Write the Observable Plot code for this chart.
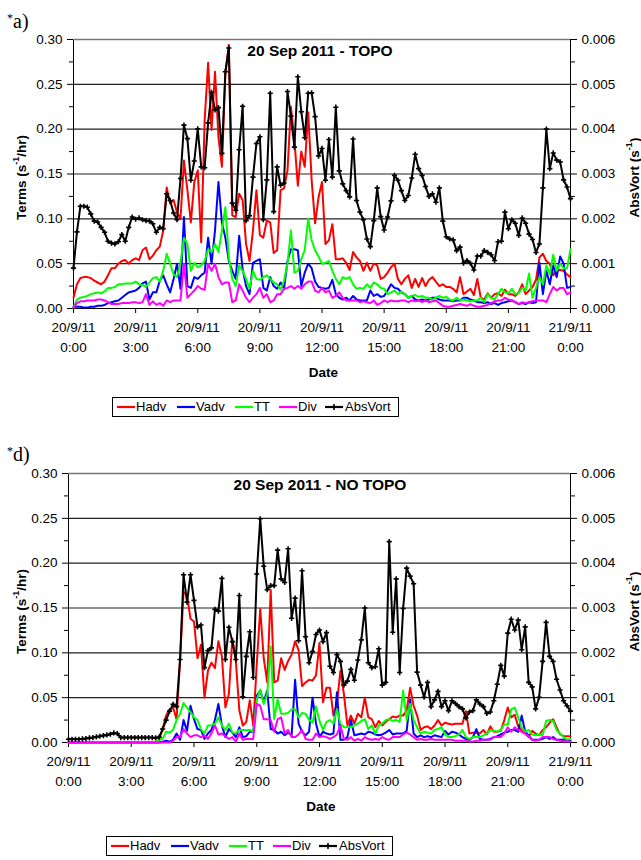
<!DOCTYPE html>
<html><head><meta charset="utf-8">
<script src="https://cdn.jsdelivr.net/npm/d3@7"></script>
<script src="https://cdn.jsdelivr.net/npm/@observablehq/plot@0.6"></script>
<style>
body{margin:0;background:#fff;}
#page{position:relative;width:641px;height:860px;background:#fff;font-family:Arial,"Liberation Sans",sans-serif;overflow:hidden}
.plabel{position:absolute;font-family:"Times New Roman","Liberation Serif",serif;font-size:20px;line-height:20px;color:#000}
.plabel sup{font-size:12px;vertical-align:6px}
.legend{position:absolute;border:1px solid #000;background:#fff;width:285px;height:18px;font-size:13px;color:#000}
.legend .it{position:absolute;top:0;height:18px;line-height:18px}
.legend svg{position:absolute;top:0}
</style></head><body><div id="page"></div><script>
// ---- time axis ----
const startTime = Date.UTC(2011, 8, 20, 0, 0);
const stepMinutes = 10;
const nPoints = 145;
const dateLabels = ["20/9/11","20/9/11","20/9/11","20/9/11","20/9/11","20/9/11","20/9/11","20/9/11","21/9/11"];
const timeLabels = ["0:00","3:00","6:00","9:00","12:00","15:00","18:00","21:00","0:00"];
const termTicks = [0, 0.05, 0.10, 0.15, 0.20, 0.25, 0.30];
const vortTicks = [0, 0.001, 0.002, 0.003, 0.004, 0.005, 0.006];
const seriesNames = ["Hadv","Vadv","TT","Div","AbsVort"];
const seriesColors = ["#ff0000","#0000ff","#00ff00","#ff00ff","#000000"];

// ---- panel a) TOPO ----
const topoHadv = [0.012,0.027,0.034,0.035,0.035,0.034,0.031,0.029,0.027,0.030,
0.037,0.045,0.045,0.050,0.053,0.054,0.050,0.054,0.056,0.054,
0.065,0.068,0.055,0.059,0.065,0.069,0.087,0.135,0.117,0.121,
0.107,0.100,0.165,0.132,0.096,0.141,0.154,0.074,0.210,0.274,
0.199,0.264,0.191,0.158,0.262,0.294,0.104,0.102,0.128,0.121,
0.072,0.053,0.087,0.132,0.082,0.079,0.098,0.096,0.062,0.065,
0.132,0.134,0.154,0.225,0.188,0.137,0.175,0.158,0.219,0.143,
0.095,0.124,0.141,0.072,0.076,0.094,0.055,0.055,0.056,0.051,
0.043,0.063,0.057,0.053,0.042,0.051,0.042,0.050,0.048,0.033,
0.035,0.040,0.046,0.050,0.033,0.027,0.033,0.037,0.023,0.033,
0.024,0.034,0.025,0.032,0.035,0.030,0.025,0.027,0.024,0.024,
0.022,0.018,0.035,0.016,0.019,0.022,0.015,0.033,0.012,0.010,
0.017,0.012,0.016,0.017,0.014,0.021,0.016,0.016,0.014,0.018,
0.027,0.016,0.020,0.024,0.032,0.057,0.061,0.053,0.050,0.037,
0.042,0.043,0.042,0.038,0.035];
const topoVadv = [0.002,0.002,0.002,0.001,0.001,0.002,0.002,0.003,0.003,0.004,
0.006,0.007,0.008,0.009,0.012,0.015,0.018,0.019,0.020,0.023,
0.028,0.030,0.010,0.018,0.018,0.031,0.037,0.027,0.018,0.033,
0.050,0.022,0.102,0.025,0.023,0.035,0.033,0.037,0.040,0.079,
0.050,0.087,0.141,0.096,0.079,0.053,0.042,0.033,0.081,0.044,
0.025,0.016,0.051,0.053,0.055,0.023,0.020,0.035,0.025,0.022,
0.029,0.022,0.053,0.066,0.066,0.065,0.025,0.040,0.050,0.045,
0.030,0.024,0.023,0.022,0.023,0.032,0.016,0.012,0.010,0.012,
0.009,0.014,0.010,0.009,0.009,0.009,0.020,0.014,0.016,0.013,
0.014,0.020,0.027,0.023,0.022,0.018,0.016,0.012,0.014,0.010,
0.009,0.010,0.009,0.010,0.012,0.012,0.010,0.009,0.009,0.009,
0.008,0.009,0.009,0.012,0.012,0.010,0.009,0.007,0.007,0.006,
0.007,0.005,0.006,0.004,0.006,0.007,0.008,0.009,0.007,0.005,
0.006,0.005,0.007,0.006,0.007,0.051,0.016,0.042,0.027,0.048,
0.035,0.058,0.050,0.023,0.024];
const topoTT = [0.001,0.010,0.012,0.013,0.014,0.016,0.017,0.018,0.017,0.019,
0.023,0.023,0.024,0.027,0.027,0.028,0.028,0.028,0.030,0.027,
0.026,0.024,0.029,0.034,0.035,0.030,0.042,0.061,0.050,0.038,
0.035,0.051,0.079,0.072,0.042,0.051,0.046,0.048,0.053,0.066,
0.063,0.072,0.063,0.087,0.113,0.057,0.033,0.025,0.048,0.042,
0.033,0.022,0.042,0.033,0.032,0.035,0.037,0.033,0.029,0.027,
0.021,0.031,0.050,0.087,0.040,0.042,0.055,0.065,0.100,0.076,
0.065,0.058,0.050,0.051,0.053,0.042,0.033,0.027,0.035,0.033,
0.035,0.027,0.022,0.023,0.022,0.027,0.023,0.029,0.027,0.023,
0.022,0.016,0.018,0.020,0.016,0.019,0.016,0.012,0.014,0.015,
0.013,0.014,0.012,0.012,0.010,0.012,0.014,0.012,0.013,0.010,
0.009,0.012,0.009,0.010,0.009,0.008,0.009,0.009,0.012,0.007,
0.016,0.012,0.010,0.016,0.022,0.018,0.017,0.022,0.016,0.017,
0.023,0.020,0.039,0.012,0.023,0.035,0.027,0.048,0.038,0.060,
0.042,0.050,0.045,0.045,0.066];
const topoDiv = [0.001,0.006,0.008,0.008,0.009,0.009,0.009,0.010,0.010,0.009,
0.007,0.005,0.005,0.005,0.006,0.006,0.006,0.007,0.007,0.006,
0.007,0.016,0.004,0.008,0.004,0.006,0.003,0.009,0.007,0.009,
0.009,0.009,0.050,0.012,0.016,0.020,0.025,0.022,0.021,0.050,
0.042,0.050,0.035,0.027,0.029,0.029,0.007,0.009,0.027,0.020,
0.012,0.007,0.012,0.016,0.023,0.012,0.016,0.007,0.009,0.016,
0.016,0.022,0.023,0.025,0.022,0.025,0.022,0.027,0.030,0.030,
0.020,0.018,0.023,0.018,0.020,0.012,0.014,0.018,0.012,0.009,
0.009,0.009,0.009,0.007,0.008,0.007,0.006,0.009,0.004,0.006,
0.009,0.007,0.009,0.008,0.008,0.009,0.009,0.007,0.009,0.008,
0.009,0.007,0.009,0.007,0.008,0.009,0.006,0.003,0.002,0.002,
0.003,0.004,0.005,0.004,0.003,0.005,0.003,0.002,0.002,0.003,
0.004,0.006,0.008,0.009,0.009,0.012,0.010,0.009,0.007,0.005,
0.007,0.006,0.007,0.008,0.009,0.009,0.009,0.007,0.016,0.024,
0.020,0.023,0.023,0.016,0.018];
const topoAbsVort = [0.00090,0.00171,0.00228,0.00228,0.00226,0.00211,0.00195,0.00193,0.00181,0.00170,
0.00150,0.00146,0.00144,0.00149,0.00165,0.00150,0.00181,0.00204,0.00199,0.00202,
0.00198,0.00196,0.00195,0.00189,0.00170,0.00181,0.00178,0.00256,0.00241,0.00213,
0.00198,0.00290,0.00409,0.00379,0.00286,0.00329,0.00401,0.00316,0.00314,0.00414,
0.00482,0.00443,0.00448,0.00346,0.00528,0.00581,0.00235,0.00219,0.00354,0.00451,
0.00196,0.00207,0.00293,0.00368,0.00383,0.00198,0.00287,0.00480,0.00216,0.00316,
0.00275,0.00280,0.00484,0.00429,0.00360,0.00517,0.00439,0.00381,0.00480,0.00481,
0.00428,0.00340,0.00357,0.00286,0.00377,0.00293,0.00449,0.00307,0.00278,0.00263,
0.00249,0.00378,0.00241,0.00215,0.00198,0.00155,0.00138,0.00196,0.00269,0.00205,
0.00175,0.00204,0.00240,0.00297,0.00286,0.00263,0.00241,0.00252,0.00291,0.00344,
0.00312,0.00297,0.00272,0.00250,0.00256,0.00237,0.00269,0.00195,0.00160,0.00155,
0.00153,0.00129,0.00137,0.00101,0.00107,0.00101,0.00086,0.00117,0.00117,0.00129,
0.00125,0.00120,0.00107,0.00149,0.00150,0.00215,0.00178,0.00198,0.00190,0.00163,
0.00202,0.00190,0.00166,0.00154,0.00125,0.00144,0.00269,0.00400,0.00312,0.00347,
0.00331,0.00327,0.00287,0.00271,0.00245];

// ---- panel d) NO TOPO ----
const notopoHadv = [0,0,0,0,0,0,0,0,0,0,
0,0,0,0,0,0,0,0,0,0,
0,0,0,0,0,0,0.003,0.015,0.030,0.037,
0.039,0.026,0.091,0.168,0.164,0.138,0.135,0.094,0.109,0.050,
0.080,0.089,0.083,0.113,0.096,0.039,0.054,0.116,0.091,0.036,
0.019,0.023,0.047,0.019,0.087,0.149,0.094,0.067,0.170,0.067,
0.069,0.094,0.081,0.091,0.098,0.113,0.103,0.063,0.067,0.070,
0.069,0.075,0.111,0.045,0.061,0.061,0.030,0.043,0.080,0.054,
0.019,0.030,0.021,0.032,0.028,0.050,0.028,0.026,0.017,0.024,
0.019,0.023,0.026,0.029,0.028,0.030,0.030,0.036,0.061,0.041,
0.030,0.014,0.017,0.018,0.015,0.019,0.025,0.019,0.022,0.021,
0.020,0.021,0.021,0.021,0.035,0.010,0.011,0.011,0.010,0.014,
0.009,0.018,0.012,0.012,0.013,0.025,0.039,0.028,0.031,0.018,
0.014,0.010,0.006,0.013,0.010,0.008,0.014,0.017,0.022,0.026,
0.017,0.009,0.007,0.007,0.007];
const notopoVadv = [0,0,0,0,0,0,0,0,0,0,
0,0,0,0,0,0,0,0,0,0,
0,0,0,0,0,0,0,0.001,0.002,0.001,
0.003,0.010,0.003,0.025,0.013,0.041,0.026,0.015,0.014,0.004,
0.010,0.014,0.025,0.043,0.019,0.006,0.015,0.011,0.006,0.017,
0.006,0.007,0.012,0.012,0.052,0.058,0.045,0.058,0.015,0.014,
0.010,0.012,0.008,0.011,0.008,0.070,0.021,0.012,0.008,0.012,
0.050,0.021,0.006,0.012,0.010,0.009,0.010,0.056,0.003,0.003,
0.006,0.025,0.008,0.009,0.010,0.009,0.012,0.011,0.009,0.008,
0.009,0.011,0.014,0.009,0.010,0.010,0.010,0.013,0.048,0.010,
0.006,0.008,0.006,0.007,0.006,0.008,0.007,0.006,0.013,0.009,
0.012,0.011,0.009,0.006,0.004,0.003,0.006,0.015,0.004,0.003,
0.003,0.004,0.006,0.007,0.009,0.011,0.012,0.014,0.014,0.012,
0.030,0.012,0.008,0.003,0.003,0.003,0.004,0.006,0.004,0.006,
0.003,0.003,0.003,0.003,0.002];
const notopoTT = [0,0,0,0,0,0,0,0,0,0,
0,0,0,0,0,0,0,0,0,0,
0,0,0,0,0,0,0.003,0.004,0.012,0.011,
0.014,0.025,0.032,0.044,0.039,0.034,0.028,0.025,0.015,0.010,
0.019,0.019,0.021,0.028,0.019,0.014,0.021,0.011,0.010,0.014,
0.014,0.014,0.014,0.012,0.048,0.059,0.043,0.054,0.107,0.026,
0.048,0.032,0.032,0.033,0.037,0.037,0.028,0.033,0.032,0.025,
0.022,0.040,0.024,0.014,0.023,0.025,0.021,0.037,0.021,0.017,
0.017,0.017,0.019,0.021,0.024,0.026,0.015,0.019,0.010,0.019,
0.021,0.025,0.026,0.024,0.025,0.023,0.058,0.025,0.043,0.025,
0.017,0.010,0.012,0.011,0.010,0.014,0.015,0.017,0.009,0.006,
0.006,0.007,0.009,0.014,0.006,0.004,0.006,0.006,0.006,0.008,
0.010,0.014,0.013,0.012,0.014,0.020,0.020,0.037,0.039,0.028,
0.017,0.012,0.014,0.009,0.008,0.009,0.008,0.024,0.025,0.024,
0.014,0.010,0.006,0.003,0.004];
const notopoDiv = [0,0,0,0,0,0,0,0,0,0,
0,0,0,0,0,0,0,0,0,0,
0,0,0,0,0,0,0,0,0,0,
0.002,0.006,0.006,0.015,0.010,0.006,0.008,0.008,0.006,0.008,
0.004,0.010,0.019,0.009,0.010,0.007,0.004,0.006,0.001,0.010,
0.003,0.004,0.004,0.004,0.043,0.041,0.026,0.026,0.025,0.012,
0.026,0.028,0.010,0.014,0.006,0.006,0.009,0.014,0.004,0.003,
0.003,0.010,0.006,0.007,0.006,0.004,0.006,0.009,0.019,0.004,
0.003,0.006,0.002,0.004,0.002,0.006,0.004,0.003,0.004,0.003,
0.006,0.004,0.003,0.006,0.006,0.006,0.009,0.011,0.009,0.006,
0.003,0.004,0.003,0.003,0.004,0.003,0.003,0.003,0.003,0.003,
0.003,0.002,0.002,0.002,0.002,0.001,0.001,0.002,0.002,0.003,
0.003,0.003,0.006,0.006,0.006,0.010,0.017,0.012,0.017,0.014,
0.012,0.010,0.007,0.003,0.002,0.003,0.006,0.006,0.006,0.004,
0.003,0.002,0.001,0.001,0.001];
const notopoAbsVort = [0.000073,0.000073,0.000073,0.000073,0.000081,0.000088,0.000103,0.000110,0.000125,0.000139,
0.000154,0.000169,0.000184,0.000213,0.000198,0.000110,0.000110,0.000110,0.000110,0.000110,
0.000110,0.000110,0.000110,0.000110,0.000110,0.000103,0.000120,0.000300,0.000500,0.000700,
0.000850,0.000800,0.00185,0.00374,0.00313,0.00374,0.00317,0.00258,0.00262,0.00167,
0.00205,0.00211,0.00297,0.00293,0.00366,0.00185,0.00257,0.00225,0.00185,0.00328,
0.00102,0.00192,0.00247,0.00145,0.00376,0.00499,0.00393,0.00341,0.00350,0.00350,
0.00429,0.00365,0.00357,0.00432,0.00277,0.00322,0.00227,0.00383,0.00236,0.00178,
0.00203,0.00241,0.00251,0.00225,0.00245,0.00170,0.00156,0.00196,0.00181,0.00128,
0.00137,0.00163,0.00139,0.00184,0.00229,0.00300,0.00178,0.00167,0.00169,0.00209,
0.00128,0.00134,0.00448,0.00246,0.00365,0.00156,0.00299,0.00389,0.00371,0.00354,
0.00157,0.00128,0.00101,0.00134,0.00080,0.00095,0.00114,0.00080,0.00093,0.00071,
0.00093,0.00087,0.00080,0.00075,0.00055,0.00068,0.00071,0.00095,0.00086,0.00080,
0.00065,0.00068,0.00093,0.00130,0.00172,0.00148,0.00244,0.00275,0.00251,0.00273,
0.00207,0.00258,0.00134,0.00124,0.00075,0.00101,0.00181,0.00268,0.00192,0.00181,
0.00141,0.00117,0.00093,0.00082,0.00070];

// ---- build ----
const checks = {topoHadv,topoVadv,topoTT,topoDiv,topoAbsVort,notopoHadv,notopoVadv,notopoTT,notopoDiv,notopoAbsVort};
for (const [k,v] of Object.entries(checks)) if (v.length !== nPoints) throw new Error(k+" has "+v.length);

const times = d3.range(nPoints).map(i => new Date(startTime + i*stepMinutes*60000));
const xTicks = d3.range(9).map(k => new Date(startTime + k*3*3600000));
const vortScale = 0.30/0.006; // right axis maps onto left axis range
const FONT = "Arial, 'Liberation Sans', sans-serif";
const page = document.getElementById("page");

function panel({hadv, vadv, tt, div, vort, title, top, marginLeft}) {
  const rows = times.map((t,i) => ({t, hadv:hadv[i], vadv:vadv[i], tt:tt[i], div:div[i], vort:vort[i]}));
  const minorTerms = d3.range(1, 12, 2).map(k => k*0.025);
  const svg = Plot.plot({
    width: 641, height: 390,
    marginTop: 39, marginBottom: 82, marginLeft, marginRight: 71,
    style: {fontFamily: FONT, fontSize: "13.5px", color: "#000", background: "transparent", overflow: "visible"},
    x: {type: "utc", domain: [new Date(startTime), xTicks[8]]},
    y: {domain: [0, 0.3]},
    marks: [
      Plot.ruleY(termTicks.slice(1, 6), {stroke: "#222", strokeWidth: 1.2}),
      Plot.frame({stroke: "#000"}),
      Plot.ruleY([0.3], {stroke: "#777", strokeWidth: 1.6}),
      Plot.axisY({ticks: termTicks, tickFormat: d => d.toFixed(2), tickSize: 6, tickPadding: 5, label: null}),
      Plot.axisY({ticks: minorTerms, tickFormat: () => "", tickSize: 4, label: null}),
      Plot.axisY({anchor: "right", ticks: vortTicks.map(v => v*vortScale), tickFormat: d => (d/vortScale).toFixed(3), tickSize: 6, tickPadding: 5, label: null}),
      Plot.axisY({anchor: "right", ticks: minorTerms, tickFormat: () => "", tickSize: 4, label: null}),
      Plot.axisX({ticks: xTicks, tickFormat: () => "", tickSize: 5, label: null}),
      Plot.text(xTicks, {x: d => d, frameAnchor: "bottom", dy: 19.5, lineAnchor: "middle", text: (d,i) => dateLabels[i]}),
      Plot.text(xTicks, {x: d => d, frameAnchor: "bottom", dy: 39.5, lineAnchor: "middle", text: (d,i) => timeLabels[i]}),
      Plot.line(rows, {x: "t", y: "hadv", stroke: seriesColors[0], strokeWidth: 2}),
      Plot.line(rows, {x: "t", y: "vadv", stroke: seriesColors[1], strokeWidth: 2}),
      Plot.line(rows, {x: "t", y: "tt", stroke: seriesColors[2], strokeWidth: 2}),
      Plot.line(rows, {x: "t", y: "div", stroke: seriesColors[3], strokeWidth: 2}),
      Plot.line(rows, {x: "t", y: d => d.vort*vortScale, stroke: seriesColors[4], strokeWidth: 2}),
      Plot.dot(rows, {x: "t", y: d => d.vort*vortScale, symbol: "plus", r: 1.8, stroke: "#000", strokeWidth: 1.6, fill: "none"})
    ]
  });
  svg.style.position = "absolute";
  svg.style.left = "0px";
  svg.style.top = top + "px";
  const s = d3.select(svg);
  const midY = 39 + (390-82-39)/2;
  s.append("text").attr("x", 320).attr("y", 50.5).attr("text-anchor", "middle").attr("dominant-baseline", "central")
    .attr("font-weight", "bold").attr("font-size", 15.5).attr("font-family", FONT).attr("fill", "#000").text(title);
  s.append("text").attr("x", (marginLeft + 570)/2 + 2).attr("y", 390-82+64).attr("text-anchor", "middle").attr("dominant-baseline", "central")
    .attr("font-weight", "bold").attr("font-size", 13.5).attr("font-family", FONT).attr("fill", "#000").text("Date");
  const lt = s.append("text").attr("transform", `translate(21,${midY+4}) rotate(-90)`).attr("text-anchor", "middle")
    .attr("dominant-baseline", "central").attr("font-weight", "bold").attr("font-size", 13.5).attr("font-family", FONT).attr("fill", "#000");
  lt.append("tspan").text("Terms (s");
  lt.append("tspan").attr("dy", -5).attr("font-size", 9).text("-1");
  lt.append("tspan").attr("dy", 5).text("/hr)");
  const rt = s.append("text").attr("transform", `translate(634,${midY+4}) rotate(-90)`).attr("text-anchor", "middle")
    .attr("dominant-baseline", "central").attr("font-weight", "bold").attr("font-size", 13.5).attr("font-family", FONT).attr("fill", "#000");
  rt.append("tspan").text("AbsVort (s");
  rt.append("tspan").attr("dy", -5).attr("font-size", 9).text("-1");
  rt.append("tspan").attr("dy", 5).text(")");
  page.appendChild(svg);
}

function legend(left, top) {
  const box = document.createElement("div");
  box.className = "legend";
  box.style.left = left + "px";
  box.style.top = top + "px";
  const pos = [[3, 23], [63, 83], [121, 141], [165, 185], [211, 232]];
  seriesNames.forEach((name, i) => {
    const sw = d3.create("svg").attr("width", 20).attr("height", 18).style("left", pos[i][0] + "px");
    sw.append("line").attr("x1", 1).attr("x2", 19).attr("y1", 9).attr("y2", 9).attr("stroke", seriesColors[i]).attr("stroke-width", 2.2);
    if (name === "AbsVort") sw.append("path").attr("d", d3.symbol(d3.symbolPlus, 14)()).attr("transform", "translate(10,9)").attr("fill", "none").attr("stroke", "#000").attr("stroke-width", 1.6);
    box.appendChild(sw.node());
    const tx = document.createElement("div");
    tx.className = "it"; tx.style.left = pos[i][1] + "px"; tx.textContent = name;
    box.appendChild(tx);
  });
  page.appendChild(box);
}

function plabel(letter, left, top) {
  const d = document.createElement("div");
  d.className = "plabel";
  d.style.left = left + "px"; d.style.top = top + "px";
  d.innerHTML = "<sup>*</sup>" + letter + ")";
  page.appendChild(d);
}

panel({hadv: topoHadv, vadv: topoVadv, tt: topoTT, div: topoDiv, vort: topoAbsVort, title: "20 Sep 2011 - TOPO", top: 0, marginLeft: 73});
panel({hadv: notopoHadv, vadv: notopoVadv, tt: notopoTT, div: notopoDiv, vort: notopoAbsVort, title: "20 Sep 2011 - NO TOPO", top: 434, marginLeft: 68});
legend(112, 397);
legend(106, 836);
plabel("a", 7, 8);
plabel("d", 7, 441);
</script></body></html>
